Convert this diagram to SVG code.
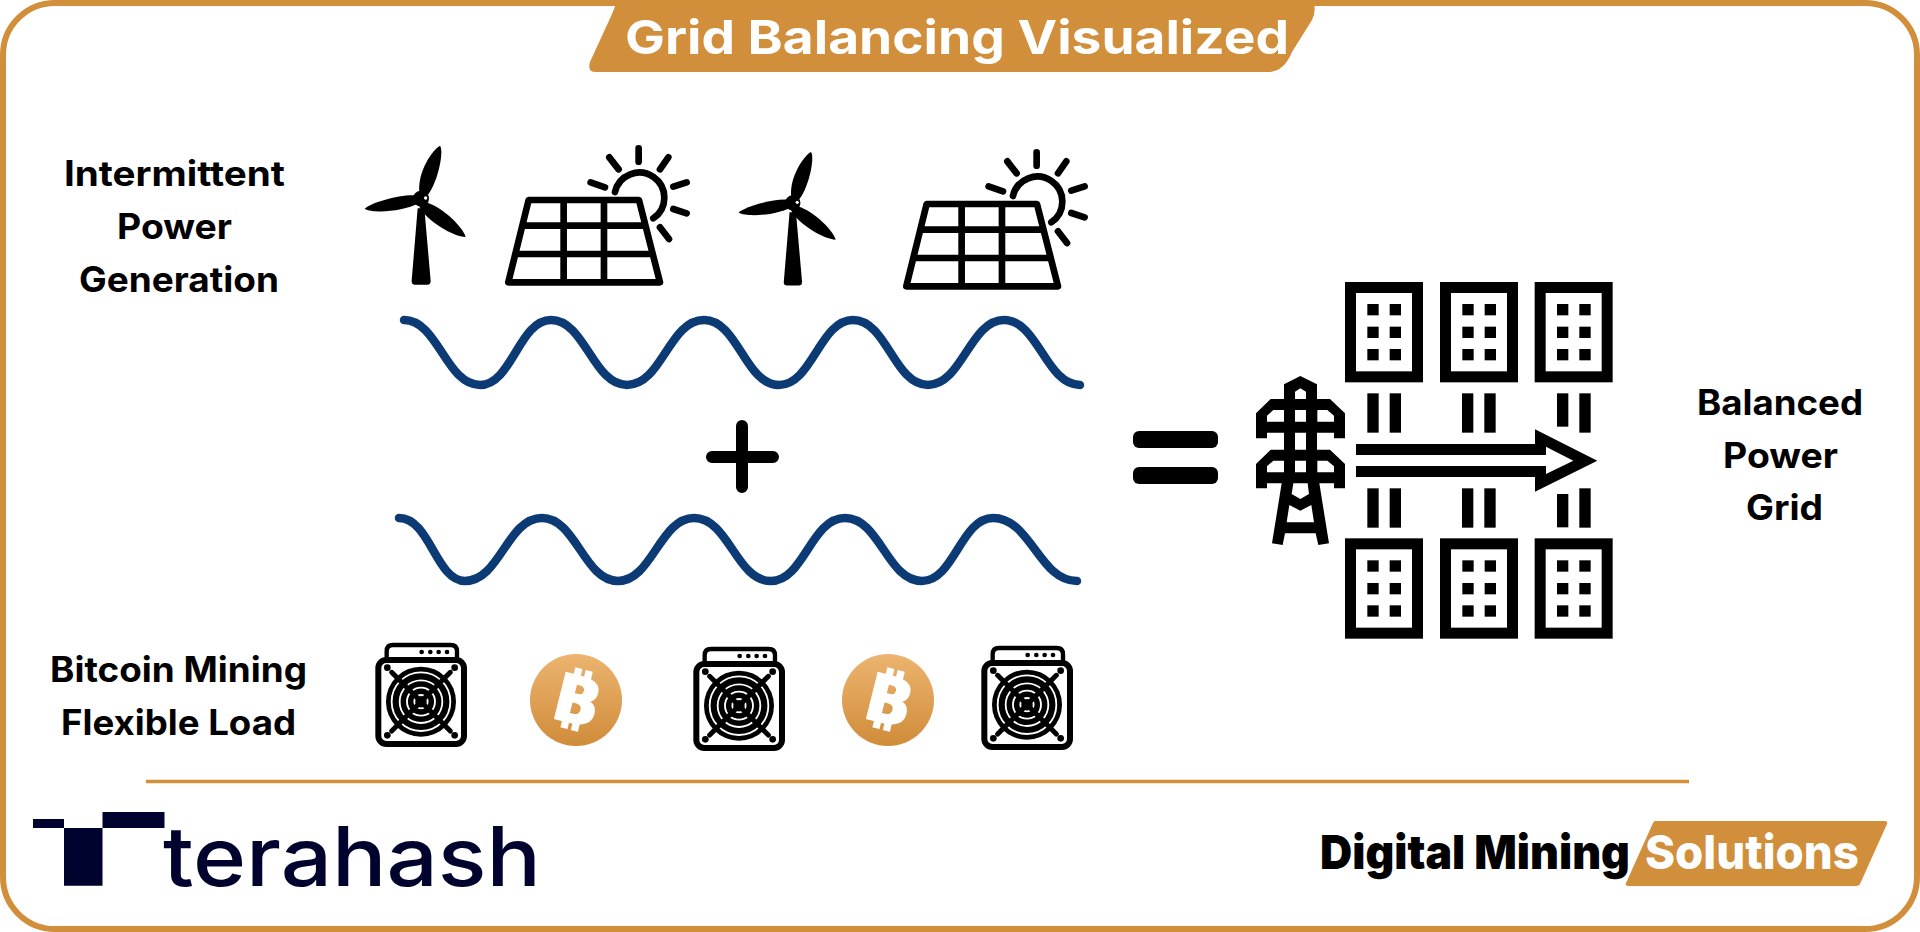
<svg xmlns="http://www.w3.org/2000/svg" xmlns:xlink="http://www.w3.org/1999/xlink" width="1920" height="932" viewBox="0 0 1920 932">
<style>
.lbl{font-family:"Inter","Liberation Sans",sans-serif;font-weight:700;font-size:35px;fill:#000}
.wave{fill:none;stroke:#0b3a75;stroke-width:8.5;stroke-linecap:round}
.k{fill:#000}
.ln{stroke:#000;stroke-linecap:round;fill:none}
</style>
<defs>
<linearGradient id="coinGrad" x1="0" y1="0" x2="0" y2="1"><stop offset="0" stop-color="#ecb46f"/><stop offset="1" stop-color="#d08c3a"/></linearGradient>
<g id="turbine">
<path class="k" d="M233,235 L253,235 L272,452 Q272,464 262,464 L225,464 Q214,464 215,452 Z"/>
<path class="k" d="M238,186 C232,125 278,58 300,47 C312,62 296,150 264,194 Z"/>
<path class="k" d="M228,196 C180,192 92,218 74,236 C100,252 192,244 236,220 Z"/>
<path class="k" d="M252,216 C296,222 368,288 377,321 C340,320 262,274 238,230 Z"/>
<circle class="k" cx="243" cy="206" r="24"/>
<circle cx="257" cy="204" r="5" fill="#fff"/>
</g>
<g id="panel">
<path d="M566,210 H897 L960,457 H505 Z M671,210 V457 M792,210 V457 M546,287 H917 M527,372 H938" fill="none" stroke="#000" stroke-width="20" stroke-linejoin="round"/>
<path class="ln" stroke-width="20" d="M825,186 A75,75 0 1 1 940,265 M896,55 V95 M808,82 L836,118 M985,82 L960,118 M752,157 L795,172 M1040,157 L1000,170 M1040,250 L1000,237 M960,292 L987,327"/>
</g>
<g id="miner">
<rect x="55" y="90" width="257" height="252" rx="24" fill="#fff" stroke="#000" stroke-width="18"/>
<path d="M80,84 V64 Q80,45 99,45 H272 Q291,45 291,64 V84" fill="none" stroke="#000" stroke-width="13"/>
<circle class="k" cx="185" cy="66" r="7"/><circle class="k" cx="211" cy="66" r="7"/><circle class="k" cx="236" cy="66" r="7"/><circle class="k" cx="261" cy="66" r="7"/>
<circle class="k" cx="82" cy="113" r="10"/><circle class="k" cx="284" cy="113" r="10"/><circle class="k" cx="82" cy="316" r="10"/><circle class="k" cx="284" cy="316" r="10"/>
<circle class="k" cx="183" cy="215" r="105"/>
<g fill="none" stroke="#fff" stroke-width="5.500"><circle cx="183" cy="215" r="88"/><circle cx="183" cy="215" r="64"/><circle cx="183" cy="215" r="42"/><circle cx="183" cy="215" r="20"/></g>
<path class="ln" stroke-width="15" d="M95,127 L271,303 M271,127 L95,303"/>
</g>
<g id="coin">
<circle cx="0" cy="0" r="46" fill="url(#coinGrad)"/>
<text x="0" y="23" text-anchor="middle" font-family="'DejaVu Sans','Noto Sans',sans-serif" font-weight="700" font-size="66" fill="#fff" stroke="#fff" stroke-width="1.500" transform="rotate(14) scale(1.22,1)">₿</text>
</g>
<g id="bldg">
<rect x="331.500" y="52.500" width="201" height="268" fill="#fff" stroke="#000" stroke-width="33"/>
<rect class="k" x="382" y="102" width="34" height="34"/><rect class="k" x="449" y="102" width="34" height="34"/>
<rect class="k" x="382" y="170" width="34" height="34"/><rect class="k" x="449" y="170" width="34" height="34"/>
<rect class="k" x="382" y="237" width="34" height="34"/><rect class="k" x="449" y="237" width="34" height="34"/>
</g>
</defs>

<g id="frame">
<rect x="3" y="3" width="1914" height="926" rx="52" fill="#fff" stroke="#d18e3b" stroke-width="6"/>
</g>
<g id="title">
<path d="M616,4 H1314 Q1316,12 1312,20 L1292,52 Q1284,72 1268,72 H596 Q587,72 590,62 L612,14 Z" fill="#d18e3b"/>
<text x="625" y="54" font-family="Inter,'Liberation Sans',sans-serif" font-weight="700" font-size="47" fill="#fff" textLength="664" lengthAdjust="spacingAndGlyphs">Grid Balancing Visualized</text>
</g>
<g id="label-intermittent">
<text class="lbl" x="64" y="186" textLength="221" lengthAdjust="spacingAndGlyphs">Intermittent</text>
<text class="lbl" x="117" y="239" textLength="115" lengthAdjust="spacingAndGlyphs">Power</text>
<text class="lbl" x="79" y="292" textLength="200" lengthAdjust="spacingAndGlyphs">Generation</text>
</g>
<g id="label-bitcoin">
<text class="lbl" x="50" y="682" textLength="257" lengthAdjust="spacingAndGlyphs">Bitcoin Mining</text>
<text class="lbl" x="61" y="735" textLength="235" lengthAdjust="spacingAndGlyphs">Flexible Load</text>
</g>
<g id="label-balanced">
<text class="lbl" x="1697" y="415" textLength="166" lengthAdjust="spacingAndGlyphs">Balanced</text>
<text class="lbl" x="1723" y="468" textLength="115" lengthAdjust="spacingAndGlyphs">Power</text>
<text class="lbl" x="1746" y="520" textLength="77" lengthAdjust="spacingAndGlyphs">Grid</text>
</g>
<g id="turbine-1"><use href="#turbine" transform="translate(340,130) scale(0.3333)"/></g>
<g id="panel-1"><use href="#panel" transform="translate(340,130) scale(0.3333)"/></g>
<g id="turbine-2"><use href="#turbine" transform="translate(715,137) scale(0.32)"/></g>
<g id="panel-2"><use href="#panel" transform="translate(738,134) scale(0.3333)"/></g>
<g id="waves">
<path class="wave" d="M404,320 C438,320 446,385 480,385 C512,385 519,320 551,320 C585,320 593,385 627,385 C662,385 669,320 704,320 C738,320 745,385 779,385 C812,385 820,320 853,320 C887,320 894,385 928,385 C962,385 970,320 1004,320 C1038,320 1046,385 1080,385"/>
<path class="wave" d="M399,518 C430,518 436,581 465,581 C500,581 507,518 542,518 C576,518 584,581 618,581 C652,581 660,518 694,518 C729,518 736,581 771,581 C804,581 811,518 845,518 C880,518 887,581 922,581 C954,581 961,518 993,518 C1031,518 1039,581 1077,581"/>
</g>
<g id="plus"><path class="ln" stroke-width="12" d="M712,457 H773 M742,426 V487"/></g>
<g id="equals"><rect class="k" x="1133" y="431" width="85" height="17" rx="6"/><rect class="k" x="1133" y="467" width="85" height="17" rx="6"/></g>
<g id="miner-1"><use href="#miner" transform="translate(360,630) scale(0.3333)"/></g>
<g id="coin-1"><use href="#coin" transform="translate(576,700)"/></g>
<g id="miner-2"><use href="#miner" transform="translate(678,634) scale(0.3333)"/></g>
<g id="coin-2"><use href="#coin" transform="translate(888,700)"/></g>
<g id="miner-3"><use href="#miner" transform="translate(966,633) scale(0.3333)"/></g>

<g id="grid" transform="translate(1240,270) scale(0.33333)">
<g id="tower"><path class="k" fill-rule="evenodd" d="M132,343 L181,318 L231,343 V387 H270 L315,430 V505 H282 V488 H231 V539 H270 L315,582 V655 H282 V640 H238 L267,820 L235,825 L227,790 H135 L128,825 L96,820 L125,640 H81 V655 H48 V582 L92,539 H132 V488 H81 V505 H48 V430 L92,387 H132 Z
M165,365 L181,355 L198,365 V387 H165 Z
M165,420 H198 V455 H165 Z M165,488 H198 V539 H165 Z M165,572 H198 V607 H165 Z
M232,420 H262 L282,437 V455 H232 Z M132,420 H100 L81,437 V455 H132 Z
M232,572 H262 L282,589 V607 H232 Z M132,572 H100 L81,589 V607 H132 Z
M160,640 H203 L207,672 L181,687 L155,672 Z M148,705 L181,722 L214,705 L222,757 H140 Z"/></g>
<use href="#bldg"/><use href="#bldg" x="285"/><use href="#bldg" x="569"/>
<use href="#bldg" y="769"/><use href="#bldg" x="285" y="769"/><use href="#bldg" x="569" y="769"/>
<g id="bars">
<rect class="k" x="382" y="370" width="34" height="118"/><rect class="k" x="449" y="370" width="34" height="118"/>
<rect class="k" x="666" y="370" width="34" height="118"/><rect class="k" x="733" y="370" width="34" height="118"/>
<rect class="k" x="951" y="370" width="34" height="100"/><rect class="k" x="1018" y="370" width="34" height="118"/>
<rect class="k" x="382" y="655" width="34" height="118"/><rect class="k" x="449" y="655" width="34" height="118"/>
<rect class="k" x="666" y="655" width="34" height="118"/><rect class="k" x="733" y="655" width="34" height="118"/>
<rect class="k" x="951" y="672" width="34" height="100"/><rect class="k" x="1018" y="655" width="34" height="118"/>
</g>
<path id="grid-arrow" class="k" d="M348,522 H885 V478 L1072,572 L885,665 V621 H348 V588 H918 V612 L1000,572 L918,530 V555 H348 Z"/>
</g>

<line id="divider" x1="146" y1="781.500" x2="1689" y2="781.500" stroke="#d18e3b" stroke-width="3.500"/>
<g id="terahash">
<path fill="#00032e" d="M33,819 H64 V828 H33 Z M64,828 H102.500 V812 H164.500 V828 H102.500 V885.700 H64 Z"/>
<text x="163" y="885.700" font-family="Inter,'Liberation Sans',sans-serif" font-weight="500" font-size="82" fill="#00032e" textLength="378" lengthAdjust="spacingAndGlyphs">terahash</text>
</g>
<g id="digital-mining">
<text x="1320" y="869" font-family="Inter,'Liberation Sans',sans-serif" font-weight="900" font-size="47" fill="#000" textLength="310" lengthAdjust="spacingAndGlyphs">Digital Mining</text>
<path d="M1655,821 H1885 Q1888,821 1887,824 L1860,884 Q1859,886 1856,886 H1628 Q1625,886 1626,883 L1653,823 Q1654,821 1655,821 Z" fill="#d18e3b"/>
<text x="1645" y="869" font-family="Inter,'Liberation Sans',sans-serif" font-weight="800" font-size="47" fill="#fff" textLength="214" lengthAdjust="spacingAndGlyphs">Solutions</text>
</g>
</svg>
